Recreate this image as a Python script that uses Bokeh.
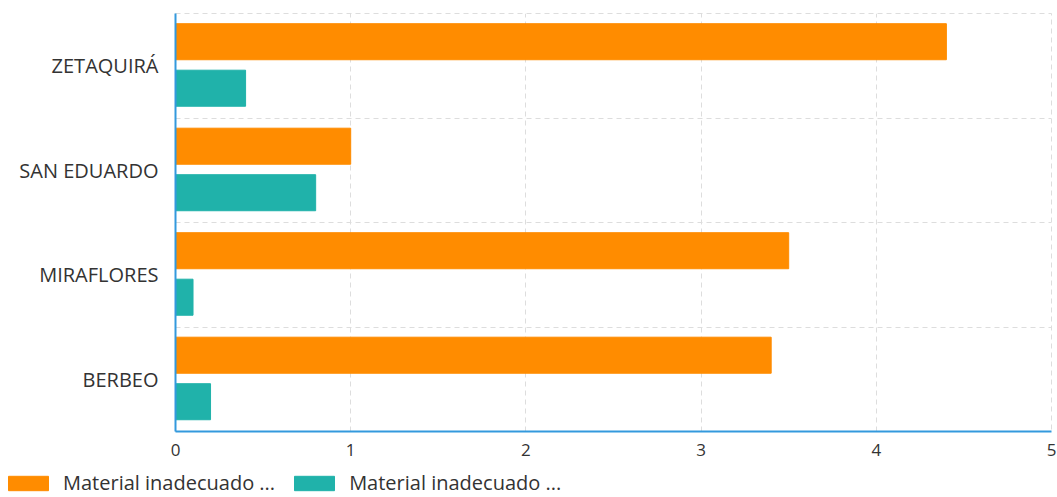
from bokeh.plotting import figure
from bokeh.models import ColumnDataSource, FactorRange, FixedTicker, Legend, LegendItem
from bokeh.layouts import column
from bokeh.transform import dodge
from bokeh.embed import file_html
from bokeh.resources import INLINE

categories = ["BERBEO", "MIRAFLORES", "SAN EDUARDO", "ZETAQUIRÁ"]
serie_a = [3.4, 3.5, 1.0, 4.4]
serie_b = [0.2, 0.1, 0.8, 0.4]
series_names = ["Material inadecuado ...", "Material inadecuado ..."]
colors = ["#FF8C00", "#20B2AA"]
x_ticks = [0, 1, 2, 3, 4, 5]

src = ColumnDataSource(dict(cat=categories, a=serie_a, b=serie_b))

FONT = "Open Sans"
TEXT = "#333333"
p = figure(width=1057, height=466, output_backend="svg", toolbar_location=None,
           y_range=FactorRange(*categories, range_padding=0, factor_padding=0),
           x_range=(0, 5), min_border_left=175, min_border_right=6,
           min_border_top=13, min_border_bottom=35)
p.frame_align = False

r1 = p.hbar(y=dodge("cat", 0.23, range=p.y_range), right="a", left=0, height=0.345,
            source=src, color=colors[0])
r2 = p.hbar(y=dodge("cat", -0.215, range=p.y_range), right="b", left=0, height=0.345,
            source=src, color=colors[1])

axis_color = "#3399DD"
p.xaxis.ticker = FixedTicker(ticks=x_ticks)
for ax in (p.xaxis[0], p.yaxis[0]):
    ax.axis_line_color = axis_color
    ax.axis_line_width = 2
    ax.major_tick_line_color = None
    ax.minor_tick_line_color = None
    ax.major_label_text_font = FONT
    ax.major_label_text_color = TEXT
p.xaxis.major_label_text_font_size = "17px"
p.yaxis.major_label_text_font_size = "20px"
p.xaxis.major_label_standoff = 6
p.yaxis.major_label_standoff = 11

p.xgrid.grid_line_color = "#dddddd"
p.xgrid.grid_line_dash = "5 4"
p.ygrid.ticker = FixedTicker(ticks=[1, 2, 3])
p.ygrid.grid_line_color = "#dddddd"
p.ygrid.grid_line_dash = "5 4"
p.outline_line_color = "#dddddd"
p.outline_line_dash = "5 4"

# legend strip below the chart (its proxy bars are hidden; only the legend shows)
lp = figure(width=1057, height=31, output_backend="svg", toolbar_location=None,
            x_axis_type=None, y_axis_type=None, min_border=0,
            y_range=FactorRange(*categories), x_range=(0, 5),
            outline_line_color=None)
lp.frame_align = False
lp.grid.visible = False
g1 = lp.hbar(y="cat", right="a", height=0.3, source=src, color=colors[0], visible=False)
g2 = lp.hbar(y="cat", right="b", height=0.3, source=src, color=colors[1], visible=False)
legend = Legend(items=[LegendItem(label=series_names[0], renderers=[g1]),
                       LegendItem(label=series_names[1], renderers=[g2])],
                orientation="horizontal", location=(3, 1),
                glyph_width=50, glyph_height=18, label_standoff=10, spacing=14,
                padding=0, margin=0, border_line_color=None, background_fill_alpha=0,
                label_text_font=FONT, label_text_font_size="20px",
                label_text_color=TEXT)
lp.add_layout(legend, "center")

layout = column(p, lp, spacing=0)
open("out.html", "w").write(file_html(layout, INLINE))
